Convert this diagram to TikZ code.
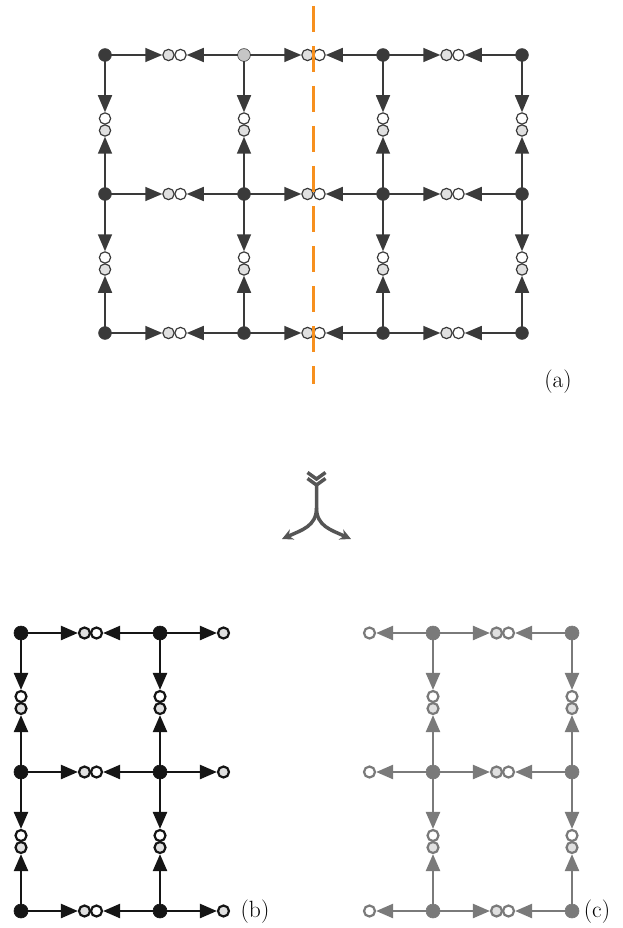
\documentclass[tikz,border=0pt]{standalone}
\usepackage{fontspec}
\usetikzlibrary{arrows.meta}

\definecolor{adark}{HTML}{3A3A3A}
\definecolor{alight}{HTML}{E0E0E0}
\definecolor{apale}{HTML}{C6C6C6}
\definecolor{bdark}{HTML}{151515}
\definecolor{cgrey}{HTML}{7A7A7A}
\definecolor{cutorange}{HTML}{F7901E}
\definecolor{splitgrey}{HTML}{555555}

\begin{document}
\begin{tikzpicture}[x=1pt,y=-1pt,
  site/.style={circle, inner sep=0pt},
  % lattice (a)
  avtx/.style={site, fill=adark, draw=adark, line width=0.6pt, minimum size=12.8pt, outer sep=0pt},
  ahalf/.style={site, draw=adark, line width=1.2pt, minimum size=11.3pt, outer sep=0.6pt},
  aedge/.style={draw=adark, line width=1.6pt, -{Triangle[length=17pt,width=14pt]}},
  % left half (b)
  bvtx/.style={site, fill=bdark, draw=bdark, line width=0.6pt, minimum size=14pt, outer sep=0pt},
  bhalf/.style={site, draw=bdark, line width=2.2pt, minimum size=11pt, outer sep=1.1pt},
  bedge/.style={draw=bdark, line width=2.4pt, -{Triangle[length=17pt,width=14pt]}},
  % right half (c)
  cvtx/.style={site, fill=cgrey, draw=cgrey, line width=0.6pt, minimum size=14pt, outer sep=0pt},
  chalf/.style={site, draw=cgrey, line width=2.2pt, minimum size=11pt, outer sep=1.1pt},
  cedge/.style={draw=cgrey, line width=2.4pt, -{Triangle[length=17pt,width=14pt]}},
  cutline/.style={draw=cutorange, line width=2.5pt, dash pattern=on 26pt off 14pt},
  splitline/.style={draw=splitgrey, line width=3.5pt, line join=miter},
  tag/.style={inner sep=0pt, font=\fontsize{23.5}{28}\selectfont}
]
\useasboundingbox (0,0) rectangle (623,928);

% ---------------- (a) full lattice ----------------
\foreach \i in {0,...,3}{
  \foreach \j in {0,1,2}{
    \ifnum\i\j=10 \def\vfill{apale}\else\def\vfill{adark}\fi
    \node[avtx, fill=\vfill] (a-\i-\j) at ({105+139*\i},{55+139*\j}) {};
  }
}
% horizontal bonds
\foreach \i in {0,1,2}{
  \foreach \j in {0,1,2}{
    \pgfmathtruncatemacro\k{\i+1}
    \node[ahalf, fill=alight] (ahg-\i-\j) at ({105+139*\i+69.5-6},{55+139*\j}) {};
    \node[ahalf, fill=white]  (ahw-\i-\j) at ({105+139*\i+69.5+6},{55+139*\j}) {};
    \draw[aedge] (a-\i-\j) -- (ahg-\i-\j);
    \draw[aedge] (a-\k-\j) -- (ahw-\i-\j);
  }
}
% vertical bonds
\foreach \i in {0,...,3}{
  \foreach \j in {0,1}{
    \pgfmathtruncatemacro\k{\j+1}
    \node[ahalf, fill=white]  (avw-\i-\j) at ({105+139*\i},{55+139*\j+69.5-6}) {};
    \node[ahalf, fill=alight] (avg-\i-\j) at ({105+139*\i},{55+139*\j+69.5+6}) {};
    \draw[aedge] (a-\i-\j) -- (avw-\i-\j);
    \draw[aedge] (a-\i-\k) -- (avg-\i-\j);
  }
}
% cut
\coordinate (cut-top) at (313.5,6);
\coordinate (cut-bot) at (313.5,384);
\draw[cutline] (cut-top) -- (cut-bot);
\node[tag] (tag-a) at (558,381.5) {(a)};

% ---------------- splitting symbol ----------------
\coordinate (split-top) at (316.5,485);
\coordinate (split-fork) at (316.5,508);
\coordinate (split-left) at (282,539);
\coordinate (split-right) at (351,539);
\draw[splitline] (307.5,472.5) -- (316.5,479) -- (325.5,472.5);
\draw[splitline] (307.5,478.5) -- (split-top) -- (325.5,478.5);
\draw[splitline, -{Stealth[length=11pt,width=11pt]}]
  (split-top) -- (split-fork) .. controls (316.5,526) and (302,530) .. (split-left);
\draw[splitline, -{Stealth[length=11pt,width=11pt]}]
  (split-fork) .. controls (316.5,526) and (331,530) .. (split-right);

% ---------------- (b) left half ----------------
\foreach \i in {0,1}{
  \foreach \j in {0,1,2}{
    \node[bvtx] (b-\i-\j) at ({21+139*\i},{633+139*\j}) {};
  }
}
\foreach \j in {0,1,2}{
  \node[bhalf, fill=alight] (bhg-0-\j) at ({21+69.5-6},{633+139*\j}) {};
  \node[bhalf, fill=white]  (bhw-0-\j) at ({21+69.5+6},{633+139*\j}) {};
  \node[bhalf, fill=alight] (bhg-1-\j) at ({160+69.5-6},{633+139*\j}) {};
  \draw[bedge] (b-0-\j) -- (bhg-0-\j);
  \draw[bedge] (b-1-\j) -- (bhw-0-\j);
  \draw[bedge] (b-1-\j) -- (bhg-1-\j);
}
\foreach \i in {0,1}{
  \foreach \j in {0,1}{
    \pgfmathtruncatemacro\k{\j+1}
    \node[bhalf, fill=white]  (bvw-\i-\j) at ({21+139*\i},{633+139*\j+69.5-6}) {};
    \node[bhalf, fill=alight] (bvg-\i-\j) at ({21+139*\i},{633+139*\j+69.5+6}) {};
    \draw[bedge] (b-\i-\j) -- (bvw-\i-\j);
    \draw[bedge] (b-\i-\k) -- (bvg-\i-\j);
  }
}
\node[tag] (tag-b) at (255,912) {(b)};

% ---------------- (c) right half ----------------
\foreach \i in {0,1}{
  \foreach \j in {0,1,2}{
    \node[cvtx] (c-\i-\j) at ({433+139*\i},{633+139*\j}) {};
  }
}
\foreach \j in {0,1,2}{
  \node[chalf, fill=white]  (chw-s-\j) at ({433-69.5+6},{633+139*\j}) {};
  \node[chalf, fill=alight] (chg-0-\j) at ({433+69.5-6},{633+139*\j}) {};
  \node[chalf, fill=white]  (chw-0-\j) at ({433+69.5+6},{633+139*\j}) {};
  \draw[cedge] (c-0-\j) -- (chw-s-\j);
  \draw[cedge] (c-0-\j) -- (chg-0-\j);
  \draw[cedge] (c-1-\j) -- (chw-0-\j);
}
\foreach \i in {0,1}{
  \foreach \j in {0,1}{
    \pgfmathtruncatemacro\k{\j+1}
    \node[chalf, fill=white]  (cvw-\i-\j) at ({433+139*\i},{633+139*\j+69.5-6}) {};
    \node[chalf, fill=alight] (cvg-\i-\j) at ({433+139*\i},{633+139*\j+69.5+6}) {};
    \draw[cedge] (c-\i-\j) -- (cvw-\i-\j);
    \draw[cedge] (c-\i-\k) -- (cvg-\i-\j);
  }
}
\node[tag] (tag-c) at (597,912) {(c)};
\end{tikzpicture}
\end{document}
